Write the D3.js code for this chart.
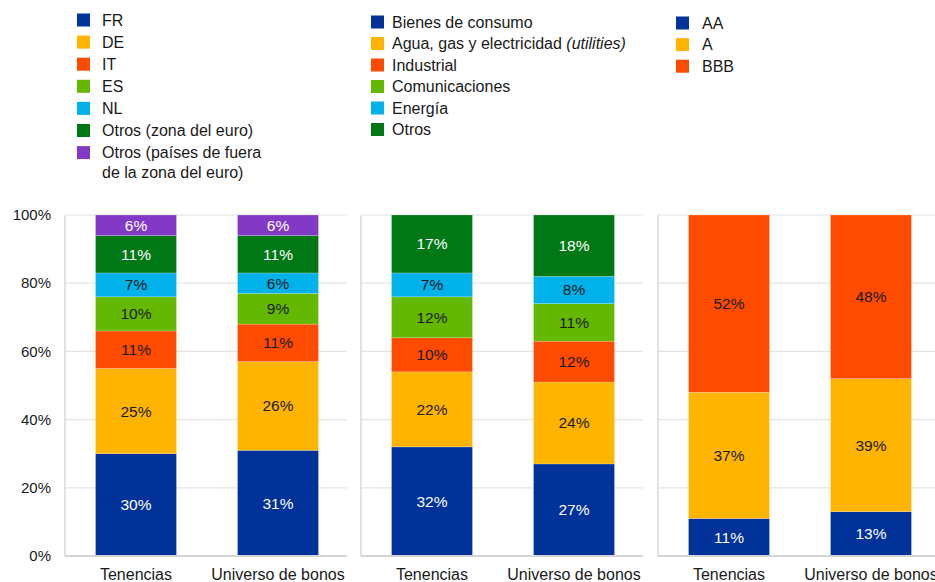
<!DOCTYPE html>
<html>
<head>
<meta charset="utf-8">
<script src="https://cdn.jsdelivr.net/npm/d3@7"></script>
<style>
  html, body { margin: 0; padding: 0; background: #fff; }
  svg { display: block; font-family: "Liberation Sans", Arial, sans-serif; }
</style>
</head>
<body>
<svg id="chart" width="935" height="582"></svg>
<script>
// Categories on each panel's x axis
const categories = ["Tenencias", "Universo de bonos"];

// Panel 1: by country
const countrySeries = ["FR", "DE", "IT", "ES", "NL", "Otros (zona del euro)", "Otros (países de fuera de la zona del euro)"];
const countryTenencias = [30, 25, 11, 10, 7, 11, 6];
const countryUniverso  = [31, 26, 11, 9, 6, 11, 6];

// Panel 2: by sector
const sectorSeries = ["Bienes de consumo", "Agua, gas y electricidad (utilities)", "Industrial", "Comunicaciones", "Energía", "Otros"];
const sectorTenencias = [32, 22, 10, 12, 7, 17];
const sectorUniverso  = [27, 24, 12, 11, 8, 18];

// Panel 3: by rating
const ratingSeries = ["AA", "A", "BBB"];
const ratingTenencias = [11, 37, 52];
const ratingUniverso  = [13, 39, 48];

// Axis ticks
const yTicks = [0, 20, 40, 60, 80, 100];

const colors = {
  blue: "#003299", orange: "#FFB400", red: "#FF4B00", lime: "#65B800",
  cyan: "#00B1EA", green: "#007816", purple: "#8139C6"
};
const countryColors = [colors.blue, colors.orange, colors.red, colors.lime, colors.cyan, colors.green, colors.purple];
const sectorColors  = [colors.blue, colors.orange, colors.red, colors.lime, colors.cyan, colors.green];
const ratingColors  = [colors.blue, colors.orange, colors.red];
const whiteText = new Set([colors.blue, colors.green, colors.purple]);

const svg = d3.select("#chart");
const textColor = "#1a1a1a";

const y = d3.scaleLinear().domain([0, 100]).range([556, 215]);

const panels = [
  { left: 65,  series: countrySeries, colors: countryColors, values: [countryTenencias, countryUniverso] },
  { left: 361, series: sectorSeries,  colors: sectorColors,  values: [sectorTenencias, sectorUniverso] },
  { left: 658, series: ratingSeries,  colors: ratingColors,  values: [ratingTenencias, ratingUniverso] }
];
const panelWidth = 284;

// Y tick labels (left of first panel)
svg.append("g").selectAll("text").data(yTicks).join("text")
  .attr("x", 51).attr("y", d => y(d)).attr("dy", "0.35em")
  .attr("text-anchor", "end").attr("font-size", 15).attr("fill", textColor)
  .text(d => d + "%");

panels.forEach(p => {
  const g = svg.append("g");
  const x = d3.scaleBand().domain(categories)
    .range([p.left, p.left + panelWidth]).paddingInner(0.43).paddingOuter(0.215);

  // gridlines
  g.append("g").selectAll("line").data(yTicks.filter(t => t > 0)).join("line")
    .attr("x1", p.left).attr("x2", p.left + panelWidth - 2)
    .attr("y1", d => y(d)).attr("y2", d => y(d))
    .attr("stroke", "#e4e4e4").attr("stroke-width", 1.2);

  // stacked bars
  categories.forEach((cat, ci) => {
    const vals = p.values[ci];
    let acc = 0;
    const segs = vals.map((v, i) => { const s = { v, i, y0: acc, y1: acc + v }; acc += v; return s; });
    const bg = g.append("g");
    bg.selectAll("rect").data(segs).join("rect")
      .attr("x", x(cat)).attr("width", x.bandwidth())
      .attr("y", d => y(d.y1)).attr("height", d => y(d.y0) - y(d.y1))
      .attr("fill", d => p.colors[d.i])
      .attr("stroke", "rgba(255,255,255,0.35)").attr("stroke-width", 0.6);
    bg.selectAll("text").data(segs).join("text")
      .attr("x", x(cat) + x.bandwidth() / 2)
      .attr("y", d => (y(d.y0) + y(d.y1)) / 2).attr("dy", "0.35em")
      .attr("text-anchor", "middle").attr("font-size", 15.5)
      .attr("fill", d => whiteText.has(p.colors[d.i]) ? "#ffffff" : textColor)
      .text(d => d.v + "%");
  });

  // left axis line
  g.append("line").attr("x1", p.left).attr("x2", p.left)
    .attr("y1", y(100)).attr("y2", y(0))
    .attr("stroke", "#d9d9d9").attr("stroke-width", 1.5);
  // bottom axis line
  g.append("line").attr("x1", p.left).attr("x2", p.left + panelWidth - 2)
    .attr("y1", y(0)).attr("y2", y(0))
    .attr("stroke", "#d4d4d4").attr("stroke-width", 2);

  // category labels
  g.append("g").selectAll("text").data(categories).join("text")
    .attr("x", d => x(d) + x.bandwidth() / 2).attr("y", 580)
    .attr("text-anchor", "middle").attr("font-size", 16).attr("fill", textColor)
    .text(d => d);
});

// Legends
function legend(items, cols, sx, tx, y0, step) {
  const lg = svg.append("g");
  items.forEach((it, i) => {
    const cy = y0 + i * step;
    lg.append("rect").attr("x", sx).attr("y", cy - 6.5).attr("width", 13).attr("height", 13).attr("fill", cols[i]);
    const t = lg.append("text").attr("x", tx).attr("y", cy).attr("dy", "0.35em")
      .attr("font-size", 16).attr("fill", textColor);
    if (it.lines) {
      it.lines.forEach((ln, j) => t.append("tspan").attr("x", tx).attr("dy", j === 0 ? "0.35em" : "1.22em").text(ln));
      t.attr("dy", null);
    } else if (it.italic) {
      t.append("tspan").text(it.text);
      t.append("tspan").attr("font-style", "italic").text(it.italic);
    } else {
      t.text(it.text);
    }
  });
}

legend([
  { text: countrySeries[0] }, { text: countrySeries[1] }, { text: countrySeries[2] },
  { text: countrySeries[3] }, { text: countrySeries[4] }, { text: countrySeries[5] },
  { lines: ["Otros (países de fuera", "de la zona del euro)"] }
], countryColors, 77, 102, 20, 22.1);

legend([
  { text: sectorSeries[0] },
  { text: "Agua, gas y electricidad ", italic: "(utilities)" },
  { text: sectorSeries[2] }, { text: sectorSeries[3] }, { text: sectorSeries[4] }, { text: sectorSeries[5] }
], sectorColors, 371, 392, 22, 21.5);

legend(ratingSeries.map(t => ({ text: t })), ratingColors, 676, 702, 23, 21.6);
</script>
</body>
</html>
